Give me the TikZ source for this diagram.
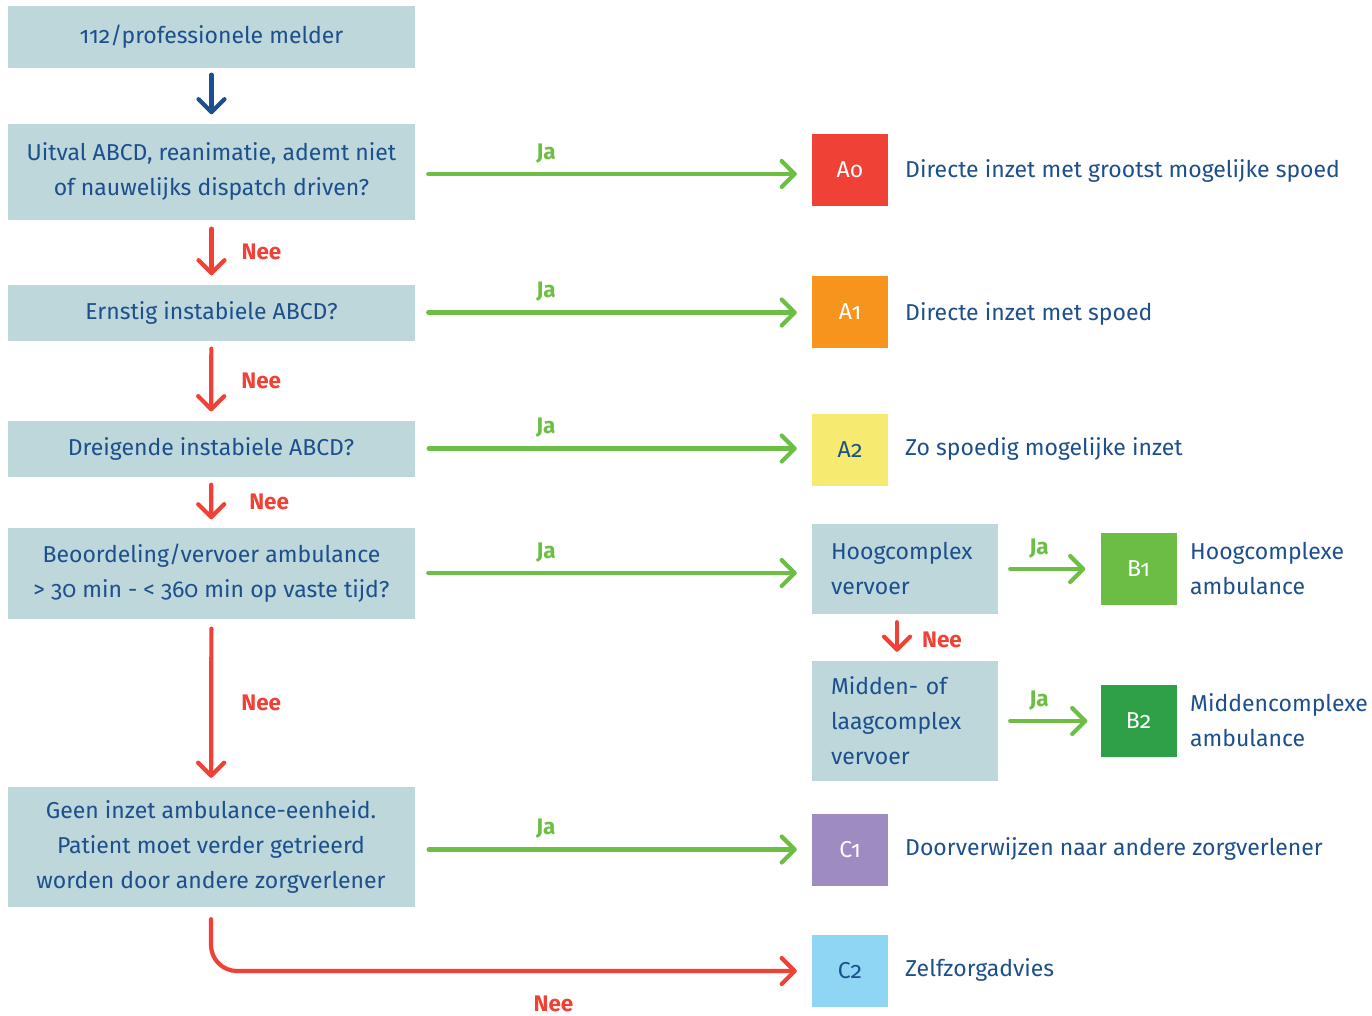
\documentclass[tikz,border=0pt]{standalone}
\usepackage{fontspec}
\setmainfont{Fira Sans}[Numbers=OldStyle]
\usetikzlibrary{arrows.meta}
\definecolor{boxfill}{HTML}{BDD7DB}
\definecolor{txtblue}{HTML}{1C4F8C}
\definecolor{arrred}{HTML}{EF4136}
\definecolor{arrgreen}{HTML}{6DBE45}
\definecolor{cA0}{HTML}{EF4136}
\definecolor{cA1}{HTML}{F7941D}
\definecolor{cA2}{HTML}{F6EB70}
\definecolor{cB1}{HTML}{6CBD45}
\definecolor{cB2}{HTML}{2EA048}
\definecolor{cC1}{HTML}{9E8BC2}
\definecolor{cC2}{HTML}{8ED6F3}
\tikzset{
  qbox/.style={fill=boxfill, text=txtblue, align=center, minimum width=407pt, inner sep=0pt},
  sbox/.style={fill=boxfill, text=txtblue, align=left, text width=148pt, inner xsep=19pt, inner ysep=0pt, minimum width=186pt},
  sq/.style={text=white, minimum width=76pt, minimum height=72pt, inner sep=0pt},
  rtext/.style={anchor=west, text=txtblue, inner sep=0pt, align=left},
  tip/.style={-{Straight Barb[length=13pt,width=26pt,round]}, line width=4.2pt, line cap=round},
  redarr/.style={tip, draw=arrred},
  greenarr/.style={tip, draw=arrgreen},
  bluearr/.style={tip, draw=txtblue},
  nee/.style={text=arrred, font=\fontsize{22.5}{26}\selectfont\bfseries, inner sep=0pt, anchor=west},
  ja/.style={text=arrgreen, font=\fontsize{22.5}{26}\selectfont\bfseries, inner sep=0pt},
}
\begin{document}
\begin{tikzpicture}[x=1pt,y=-1pt, font=\fontsize{23}{35}\selectfont]
\useasboundingbox (0,0) rectangle (1372,1015);
% left column
\node[qbox, minimum height=62pt] (n1) at (211.5,36.5) {112/professionele melder};
\node[qbox, minimum height=96pt] (n2) at (211.5,171.5) {Uitval ABCD, reanimatie, ademt niet\\of nauwelijks dispatch driven?};
\node[qbox, minimum height=56pt] (n3) at (211.5,312.5) {Ernstig instabiele ABCD?};
\node[qbox, minimum height=56pt] (n4) at (211,448.5) {Dreigende instabiele ABCD?};
\node[qbox, minimum height=91pt] (n5) at (211.5,573) {Beoordeling/vervoer ambulance\\> 30 min - < 360 min op vaste tijd?};
\node[qbox, minimum height=120pt] (n6) at (211,847) {Geen inzet ambulance-eenheid.\\Patient moet verder getrieerd\\worden door andere zorgverlener};
% squares
\node[sq, fill=cA0] (a0) at (850,170) {Ao};
\node[sq, fill=cA1] (a1) at (850,312) {A1};
\node[sq, fill=cA2, text=txtblue] (a2) at (850,450) {A2};
\node[sq, fill=cC1] (c1) at (850,849.5) {C1};
\node[sq, fill=cC2, text=txtblue] (c2) at (850,971) {C2};
\node[sq, fill=cB1] (b1) at (1138.5,569) {B1};
\node[sq, fill=cB2] (b2) at (1138.5,721) {B2};
% sub boxes
\node[sbox, minimum height=90pt] (h1) at (905,569) {Hoogcomplex\\vervoer};
\node[sbox, minimum height=120pt] (h2) at (905,721) {Midden- of\\laagcomplex\\vervoer};
% right texts
\node[rtext] (t0) at (905,171) {Directe inzet met grootst mogelijke spoed};
\node[rtext] (t1) at (905,314) {Directe inzet met spoed};
\node[rtext] (t2) at (905,449) {Zo spoedig mogelijke inzet};
\node[rtext] (tc1) at (905,849) {Doorverwijzen naar andere zorgverlener};
\node[rtext] (tc2) at (905,970) {Zelfzorgadvies};
\node[rtext] (tb1) at (1190,569) {Hoogcomplexe\\ambulance};
\node[rtext] (tb2) at (1190,720) {Middencomplexe\\ambulance};
% vertical arrows
\draw[bluearr, shorten <=7pt, shorten >=9pt] (n1) -- (n2);
\draw[redarr, shorten <=9pt, shorten >=9pt] (n2) -- node[nee, xshift=28pt, pos=0.5] {Nee} (n3);
\draw[redarr, shorten <=8pt, shorten >=9pt] (n3) -- node[nee, xshift=28pt, pos=0.5] {Nee} (n4);
\draw[redarr, shorten <=8pt, shorten >=8pt] (n4) -- node[nee, xshift=36pt, pos=0.5] {Nee} (n5);
\draw[redarr, shorten <=10pt, shorten >=9pt] (n5) -- node[nee, xshift=28pt, pos=0.5] {Nee} (n6);
\draw[redarr, shorten <=8pt, shorten >=9pt] (h1.south -| 897,0) -- node[nee, xshift=23pt, pos=0.55] {Nee} (h2.north -| 897,0);
% green arrows
\draw[greenarr, shorten <=13pt, shorten >=15pt] (n2.east |- 0,174) -- node[ja, above=9pt, pos=0.33] {Ja} (a0.west |- 0,174);
\draw[greenarr, shorten <=13pt, shorten >=15pt] (n3) -- node[ja, above=9pt, pos=0.33] {Ja} (n3 -| a1.west);
\draw[greenarr, shorten <=14pt, shorten >=15pt] (n4) -- node[ja, above=9pt, pos=0.33] {Ja} (n4 -| a2.west);
\draw[greenarr, shorten <=13pt, shorten >=15pt] (n5) -- node[ja, above=9pt, pos=0.33] {Ja} (n5 -| h1.west);
\draw[greenarr, shorten <=14pt, shorten >=15pt] (n6.east |- c1) -- node[ja, above=9pt, pos=0.33] {Ja} (c1);
\draw[greenarr, shorten <=12pt, shorten >=15pt] (h1) -- node[ja, above=9pt, pos=0.4] {Ja} (b1);
\draw[greenarr, shorten <=12pt, shorten >=13pt] (h2) -- node[ja, above=9pt, pos=0.4] {Ja} (b2);
% bottom curved arrow
\draw[redarr, rounded corners=26pt, shorten <=12pt, shorten >=15pt] (n6.south) |- node[nee, anchor=north, yshift=-23pt, pos=0.785] {Nee} (c2.west);
\end{tikzpicture}
\end{document}
